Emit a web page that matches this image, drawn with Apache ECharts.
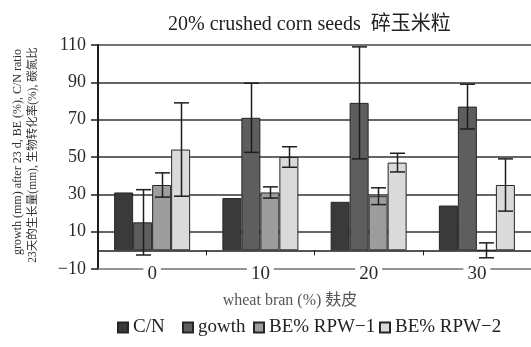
<!DOCTYPE html>
<html>
<head>
<meta charset="utf-8">
<script src="https://cdn.jsdelivr.net/npm/echarts@6/dist/echarts.min.js"></script>
<style>html,body{margin:0;padding:0;background:#fff}#c{width:531px;height:347px}</style>
</head>
<body>
<div id="c"></div>
<script>
const categories = ['0', '10', '20', '30'];
const seriesNames = ['C/N', 'gowth', 'BE% RPW\u22121', 'BE% RPW\u22122'];
const cnValues = [31, 28, 26, 24];
const growthValues = [15, 71, 79, 77];
const growthErr = [17.5, 18.5, 30, 12];
const be1Values = [35, 31, 29, 0];
const be1Err = [6.5, 3, 4.5, 4];
const be2Values = [54, 50, 47, 35];
const be2Err = [25, 5.5, 5, 14];
const yTicks = [-10, 10, 30, 50, 70, 90, 110];
const titleText = '20% crushed corn seeds  碎玉米粒';
const xName = 'wheat bran (%) 麸皮';
const yName1 = 'growth (mm) after 23 d, BE (%), C/N ratio';
const yName2 = '23天的生长量(mm), 生物转化率(%), 碳氮比';

const SERIF = '"Liberation Serif", "DejaVu Serif", "Noto Sans CJK SC", serif';
const colors = ['#3a3a3a', '#5e5e5e', '#9d9d9d', '#dadada'];
const BW = 19;
const legendLefts = [117, 182, 253, 379];

function errSeries(values, errs, offset) {
  return {
    type: 'custom',
    xAxisIndex: 0,
    yAxisIndex: 0,
    z: 10,
    silent: true,
    data: values.map((v, i) => [i, v, errs[i]]),
    encode: { x: 0, y: 1 },
    renderItem: function (params, api) {
      const idx = api.value(0), v = api.value(1), e = api.value(2);
      const t = api.coord([idx, v + e]);
      const b = api.coord([idx, v - e]);
      const x = Math.round(t[0] + offset) + 0.5;
      const hw = 7.5;
      const st = { stroke: '#1e1e1e', lineWidth: 1.5 };
      return {
        type: 'group',
        children: [
          { type: 'line', shape: { x1: x, y1: t[1], x2: x, y2: b[1] }, style: st },
          { type: 'line', shape: { x1: x - hw, y1: t[1], x2: x + hw, y2: t[1] }, style: st },
          { type: 'line', shape: { x1: x - hw, y1: b[1], x2: x + hw, y2: b[1] }, style: st }
        ]
      };
    }
  };
}

function barSeries(name, values, color) {
  return {
    name: name,
    type: 'bar',
    xAxisIndex: 0,
    barWidth: BW,
    barGap: '0%',
    z: 5,
    itemStyle: { color: color, borderColor: '#262626', borderWidth: 1 },
    data: values
  };
}

const chart = echarts.init(document.getElementById('c'), null, { renderer: 'canvas' });
chart.setOption({
  animation: false,
  backgroundColor: '#fff',
  title: {
    text: titleText,
    left: 163,
    top: 10,
    textStyle: { fontFamily: SERIF, fontSize: 20, fontWeight: 'normal', color: '#222' }
  },
  legend: seriesNames.map((n, i) => ({
    data: [n],
    left: legendLefts[i],
    top: 318,
    padding: 0,
    itemWidth: 10,
    itemHeight: 10,
    itemGap: 5,
    icon: 'rect',
    textStyle: { fontFamily: SERIF, fontSize: 19, color: '#222' }
  })),
  grid: { left: 98, right: -6, top: 45, bottom: 78, containLabel: false },
  xAxis: [
    {
      type: 'category',
      data: categories,
      position: 'bottom',
      axisLine: { onZero: false, lineStyle: { color: '#8a8a8a', width: 1.5 } },
      axisTick: { show: false },
      axisLabel: {
        fontFamily: SERIF, fontSize: 19, color: '#2a2a2a', margin: -4,
        backgroundColor: '#fff', padding: [0, 4]
      },
      splitLine: { show: false }
    },
    {
      type: 'category',
      data: categories,
      position: 'top',
      axisLine: { onZero: true, lineStyle: { color: '#1e1e1e', width: 1.5 } },
      axisTick: { show: true, inside: true, length: 5, lineStyle: { color: '#1e1e1e', width: 1 } },
      axisLabel: { show: false },
      splitLine: { show: false }
    }
  ],
  yAxis: {
    type: 'value',
    min: yTicks[0],
    max: yTicks[yTicks.length - 1],
    interval: yTicks[1] - yTicks[0],
    axisLine: { show: true, lineStyle: { color: '#1e1e1e', width: 2 } },
    axisTick: { show: true, length: 7, lineStyle: { color: '#1e1e1e', width: 1.5 } },
    axisLabel: {
      fontFamily: SERIF, fontSize: 18, color: '#2a2a2a', margin: 12,
      formatter: v => (v < 0 ? '\u2212' + Math.abs(v) : String(v))
    },
    splitLine: { show: true, lineStyle: { color: ['#9a9a9a', '#333', '#333', '#333', '#333', '#333', '#444'], width: 1.5 } }
  },
  graphic: [
    {
      type: 'text', x: 18, y: 152, rotation: Math.PI / 2,
      style: { text: yName1, fontFamily: SERIF, fontSize: 12, fill: '#333', align: 'center', verticalAlign: 'middle' }
    },
    {
      type: 'text', x: 33, y: 155, rotation: Math.PI / 2,
      style: { text: yName2, fontFamily: SERIF, fontSize: 11.5, fill: '#333', align: 'center', verticalAlign: 'middle' }
    },
    {
      type: 'text', x: 290, y: 301,
      style: { text: xName, fontFamily: SERIF, fontSize: 16, fill: '#555', align: 'center', verticalAlign: 'middle' }
    }
  ],
  series: [
    barSeries(seriesNames[0], cnValues, colors[0]),
    barSeries(seriesNames[1], growthValues, colors[1]),
    barSeries(seriesNames[2], be1Values, colors[2]),
    barSeries(seriesNames[3], be2Values, colors[3]),
    errSeries(growthValues, growthErr, -BW / 2),
    errSeries(be1Values, be1Err, BW / 2),
    errSeries(be2Values, be2Err, BW * 1.5)
  ]
});
</script>
</body>
</html>
